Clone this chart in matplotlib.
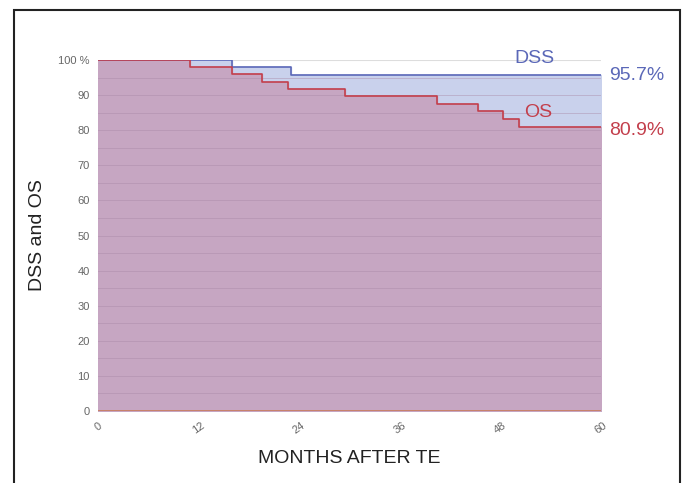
import matplotlib.pyplot as plt
from matplotlib.patches import Rectangle

plt.rcParams['font.family'] = ['Liberation Sans', 'DejaVu Sans']

# Kaplan-Meier style step data (months, survival %)
dss_months = [0, 16, 23, 60]
dss_values = [100, 98.1, 95.7, 95.7]
os_months = [0, 11, 16, 19.6, 22.7, 29.5, 40.4, 45.3, 48.3, 50.2, 60]
os_values = [100, 98.1, 96.0, 93.8, 91.6, 89.7, 87.6, 85.4, 83.3, 80.9, 80.9]
x_ticks = [0, 12, 24, 36, 48, 60]
y_ticks = [0, 10, 20, 30, 40, 50, 60, 70, 80, 90, 100]
y_labels = ['0', '10', '20', '30', '40', '50', '60', '70', '80', '90', '100 %']

fig = plt.figure(figsize=(6.84, 4.83), dpi=100)
ax = fig.add_axes([0.1433, 0.149, 0.7354, 0.7268])

# light grid above the fills
for v in range(5, 101, 5):
    ax.axhline(v, color='#dddddd', lw=0.8, zorder=0)

ax.fill_between(dss_months, dss_values, step='post', color='#c9d1ec', zorder=1)
ax.fill_between(os_months, os_values, step='post', color='#c6a6c2', zorder=2)

# darker grid lines visible through the fills
for v in range(5, 100, 5):
    ax.axhline(v, color='#a889a6', lw=0.6, alpha=0.5, zorder=3)

ax.step(dss_months, dss_values, where='post', color='#5b68b8', lw=1.2, zorder=4)
ax.step(os_months, os_values, where='post', color='#c33f4c', lw=1.2, zorder=5)
ax.axhline(0, color='#c97a5a', lw=1.2, zorder=6)

ax.set_xlim(0, 60)
ax.set_ylim(0, 100)
ax.set_xticks(x_ticks)
ax.set_xticklabels([str(t) for t in x_ticks], rotation=35, fontsize=8, color='#666666')
ax.set_yticks(y_ticks)
ax.set_yticklabels(y_labels, fontsize=8, color='#666666')
ax.tick_params(axis='y', length=0, pad=6)
ax.tick_params(axis='x', length=0, pad=7)
for s in ax.spines.values():
    s.set_visible(False)

ax.set_xlabel('MONTHS AFTER TE', fontsize=14, color='#222222', labelpad=10)
ax.set_ylabel('DSS and OS', fontsize=14, color='#222222', labelpad=9)

ax.text(52, 100.3, 'DSS', color='#5b68b8', fontsize=14, ha='center', va='center', zorder=7)
ax.text(52.5, 85.0, 'OS', color='#c33f4c', fontsize=14, ha='center', va='center', zorder=7)
ax.text(61.0, 95.7, '95.7%', color='#5b68b8', fontsize=14, ha='left', va='center', clip_on=False)
ax.text(61.0, 80.0, '80.9%', color='#c33f4c', fontsize=14, ha='left', va='center', clip_on=False)

# outer frame (open at the bottom)
fig.patches.append(Rectangle((14 / 684, -0.05), 666 / 684, 1.05 - 10 / 483,
                             transform=fig.transFigure, fill=False,
                             edgecolor='#222222', lw=1.5))

fig.savefig('out.png', dpi=100)
